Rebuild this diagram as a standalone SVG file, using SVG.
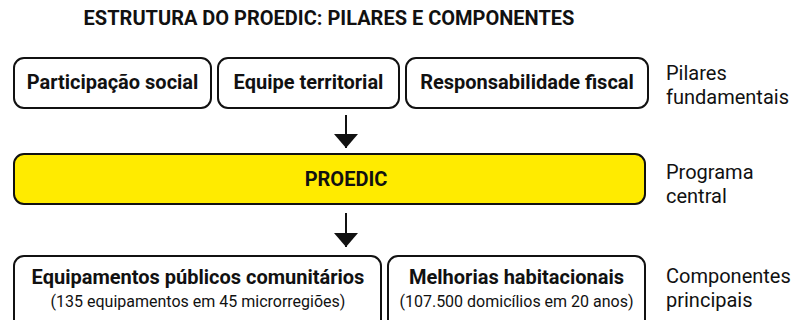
<svg xmlns="http://www.w3.org/2000/svg" width="799" height="320" viewBox="0 0 799 320">
<style>
text{font-family:Roboto,"Liberation Sans",sans-serif;fill:#111}
.box{fill:#fff;stroke:#111;stroke-width:2}
.yel{fill:#FFEB00;stroke:#111;stroke-width:2}
.b{font-weight:bold;font-size:20px;text-anchor:middle}
.s{font-size:16px;text-anchor:middle}
.lab{font-size:20px}
.conn{stroke:#111;stroke-width:2;fill:none}
</style>
<defs>
<marker id="ah" viewBox="0 0 14 24" refX="14" refY="12" markerWidth="14" markerHeight="24" markerUnits="userSpaceOnUse" orient="auto">
<path d="M0,0 L14,12 L0,24 Z" fill="#111"/>
</marker>
</defs>
<text x="329" y="25" class="b">ESTRUTURA DO PROEDIC: PILARES E COMPONENTES</text>
<g id="participacao"><rect class="box" x="14" y="58" width="197" height="50" rx="10"/><text class="b" x="112.5" y="89">Participação social</text></g>
<g id="equipe"><rect class="box" x="218" y="58" width="181" height="50" rx="10"/><text class="b" x="308.5" y="89">Equipe territorial</text></g>
<g id="responsabilidade"><rect class="box" x="406" y="58" width="242" height="50" rx="10"/><text class="b" x="527" y="89">Responsabilidade fiscal</text></g>
<g id="proedic"><rect class="yel" x="14" y="154" width="631" height="50" rx="10"/><text class="b" x="346" y="186">PROEDIC</text></g>
<g id="equipamentos"><rect class="box" x="14" y="256" width="367" height="80" rx="10"/><text class="b" x="198" y="284">Equipamentos públicos comunitários</text><text class="s" x="198" y="307">(135 equipamentos em 45 microrregiões)</text></g>
<g id="melhorias"><rect class="box" x="388" y="256" width="257" height="80" rx="10"/><text class="b" x="516.5" y="284">Melhorias habitacionais</text><text class="s" x="516.5" y="307">(107.500 domicílios em 20 anos)</text></g>
<g id="connectors">
<line class="conn" x1="346" y1="115" x2="346" y2="148" marker-end="url(#ah)"/>
<line class="conn" x1="346" y1="213" x2="346" y2="247" marker-end="url(#ah)"/>
</g>
<g id="labels">
<text class="lab" x="666" y="80">Pilares</text><text class="lab" x="666" y="104">fundamentais</text>
<text class="lab" x="666" y="179">Programa</text><text class="lab" x="666" y="203">central</text>
<text class="lab" x="666" y="283">Componentes</text><text class="lab" x="666" y="307">principais</text>
</g>
</svg>
